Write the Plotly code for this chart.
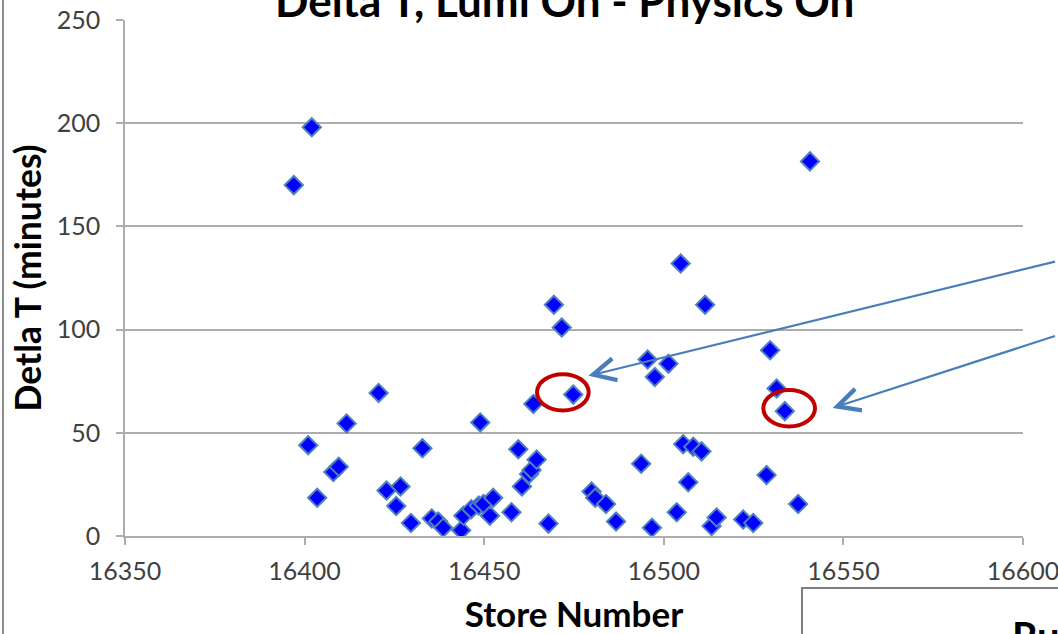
import plotly.graph_objects as go

# ---- data ----
store_number = [16397, 16402, 16401, 16403.5, 16408, 16409.5, 16411.7, 16420.6, 16422.8, 16425.5,
                16426.7, 16429.6, 16432.8, 16435.4, 16437.2, 16438.6, 16443.6, 16444.2, 16446.4, 16448.5,
                16449.8, 16448.9, 16451.6, 16452.5, 16457.6, 16459.5, 16460.5, 16462.5, 16463.2, 16464.6,
                16463.7, 16467.9, 16469.4, 16471.6, 16474.8, 16479.9, 16480.9, 16483.9, 16486.7, 16493.7,
                16495.5, 16496.7, 16497.5, 16501.3, 16503.6, 16504.7, 16505.4, 16506.8, 16508.2, 16510.5,
                16511.5, 16513.3, 16514.7, 16522.1, 16524.9, 16528.6, 16529.6, 16531.4, 16533.7, 16537.4,
                16540.7]
delta_t = [170, 198, 44, 18.5, 31, 33.5, 54.5, 69.3, 22, 14.5,
           24, 6.3, 42.5, 8.5, 7, 4, 2.8, 9.8, 13, 14.8,
           15.5, 55, 9.8, 18.5, 11.5, 42, 24, 30, 32, 37,
           64, 6, 112, 101, 68.5, 21.5, 18.5, 15.5, 7, 35,
           85.5, 4, 77, 83.5, 11.5, 132, 44.5, 26, 43.2, 41,
           112, 4.8, 9, 8, 6.3, 29.5, 90, 71.5, 60.5, 15.5,
           181.5]

x_ticks = [16350, 16400, 16450, 16500, 16550, 16600]
y_ticks = [0, 50, 100, 150, 200, 250]

# highlighted (circled) stores and the arrows pointing at them
circled_store = [16474.8, 16533.7]
circled_dt = [68.5, 60.5]
arrow_head_store = [16479.0, 16547.0]
arrow_head_dt = [77.6, 62.0]

title_text = "Delta T, Lumi On - Physics On"
x_title = "Store Number"
y_title = "Detla T (minutes)"

TXT = "#404040"
GRID = "#ADADAD"
FONT = "Lato"

fig = go.Figure()
fig.add_trace(go.Scatter(
    x=store_number, y=delta_t, mode="markers",
    marker=dict(symbol="diamond", size=14, color="#0000FF",
                line=dict(color="#4F81BD", width=2)),
    showlegend=False, hoverinfo="x+y"))

shapes = []
# red ellipses around circled points
ell_off = [(-2.9, 1.1), (1.2, 1.4)]
for (sx, sy), (dx, dy) in zip(zip(circled_store, circled_dt), ell_off):
    cx, cy = sx + dx, sy + dy
    shapes.append(dict(type="circle", xref="x", yref="y",
                       x0=cx - 7.2, x1=cx + 7.2, y0=cy - 8.8, y1=cy + 8.8,
                       line=dict(color="#C00000", width=4), layer="above"))
# slide edge at left
shapes.append(dict(type="line", xref="paper", yref="paper",
                   x0=-0.1359, x1=-0.1359, y0=-0.3, y1=1.1,
                   line=dict(color="#8C8C8C", width=2)))
# box at bottom right
shapes.append(dict(type="rect", xref="paper", yref="paper",
                   x0=0.7539, x1=1.08, y0=-0.25, y1=-0.1008,
                   line=dict(color="#7F7F7F", width=2), fillcolor="white"))

annotations = []
# chart title (placed as annotation so it can sit partly above the page edge)
annotations.append(dict(text="<b>" + title_text + "</b>", xref="paper", yref="paper",
                        x=(564.5 - 125) / 898, y=(536 - 28) / 516,
                        xanchor="center", yanchor="bottom", showarrow=False,
                        font=dict(family=FONT, size=44, color="black")))
arrow_tails = [(600, -115), (320, -73)]
for hx, hy, (ax, ay) in zip(arrow_head_store, arrow_head_dt, arrow_tails):
    annotations.append(dict(x=hx, y=hy, xref="x", yref="y", text=" ",
                            showarrow=True, ax=ax, ay=ay, arrowhead=5, arrowsize=2.0,
                            arrowwidth=2.2, arrowcolor="#4A7EBB", standoff=0))
annotations.append(dict(text="<b>Ru</b>", xref="paper", yref="paper",
                        x=(1010 - 125) / 898, y=(536 - 610) / 516,
                        xanchor="left", yanchor="top", showarrow=False,
                        font=dict(family=FONT, size=40, color="black")))

fig.update_layout(
    width=1058, height=634,
    margin=dict(l=125, r=35, t=20, b=98, autoexpand=False),
    paper_bgcolor="white", plot_bgcolor="white",
    xaxis=dict(range=[16350, 16600], tickvals=x_ticks, ticktext=[str(v) for v in x_ticks],
               automargin=False, ticklabeloverflow="allow",
               showgrid=False, zeroline=False, showline=True, linecolor=GRID, linewidth=1.5,
               ticks="outside", ticklen=7, tickcolor=GRID, tickwidth=1.5,
               ticklabelstandoff=5,
               tickfont=dict(family=FONT, size=25, color=TXT),
               title=dict(text="<b>" + x_title + "</b>", standoff=19,
                          font=dict(family=FONT, size=35, color="black"))),
    yaxis=dict(range=[0, 250], tickvals=y_ticks, ticktext=[str(v) for v in y_ticks],
               automargin=False, ticklabeloverflow="allow",
               showgrid=True, gridcolor=GRID, gridwidth=1.5, zeroline=False,
               showline=True, linecolor=GRID, linewidth=1.5,
               ticks="outside", ticklen=7, tickcolor=GRID, tickwidth=1.5,
               ticklabelstandoff=11,
               tickfont=dict(family=FONT, size=25, color=TXT),
               title=dict(text="<b>" + y_title + "</b>", standoff=4,
                          font=dict(family=FONT, size=35.5, color="black"))),
    shapes=shapes, annotations=annotations,
)

fig.write_html("out.html", config={"displayModeBar": False},
               post_script="document.body.style.margin='0px';")
